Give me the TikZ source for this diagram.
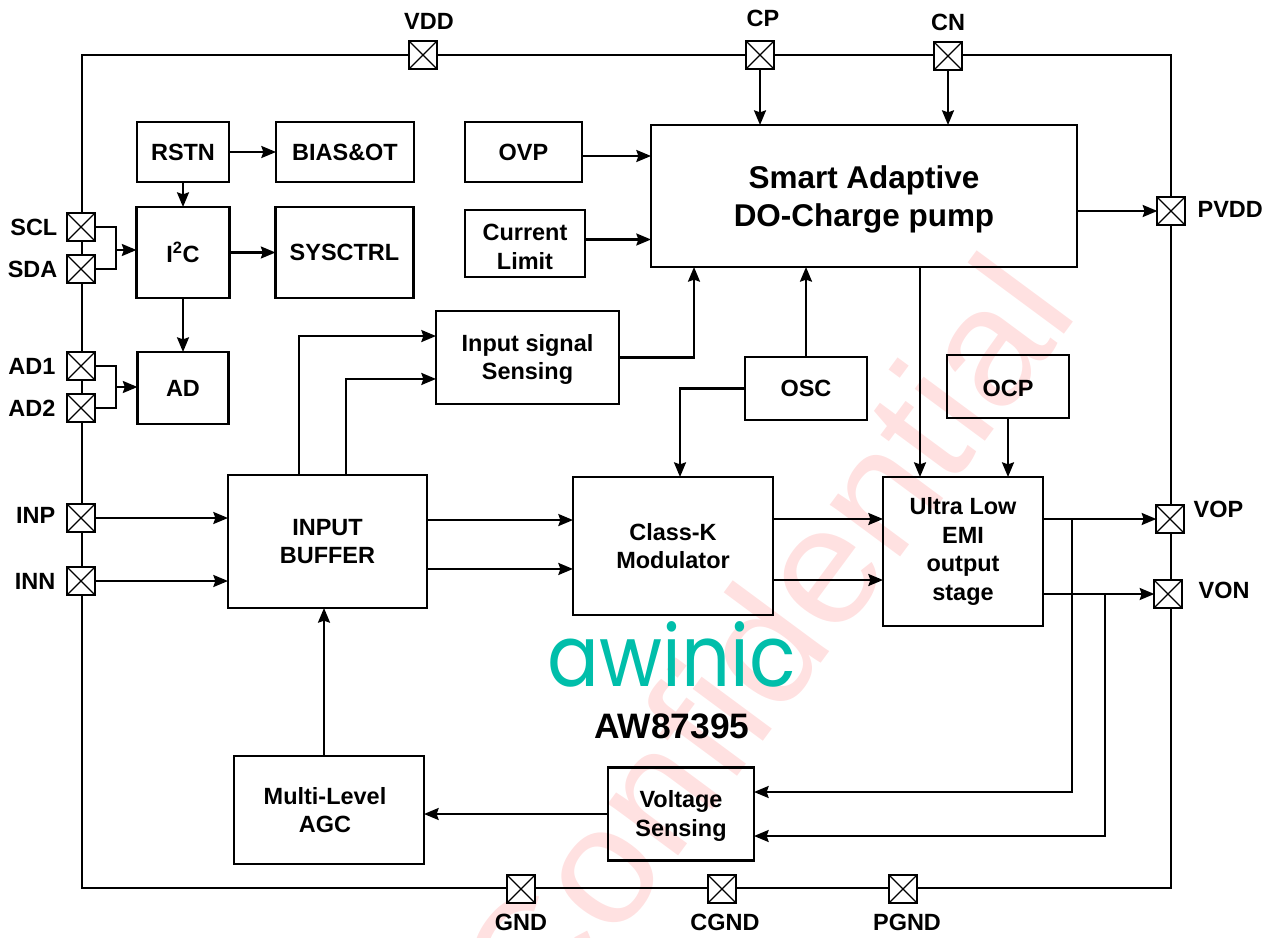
\documentclass[tikz,border=0pt]{standalone}
\usepackage{fontspec}
\setmainfont{Liberation Sans}
\newfontfamily\logofont{Poppins}
\usepackage{xcolor}
\usetikzlibrary{arrows.meta, positioning}
\definecolor{wmPink}{RGB}{255,225,225}
\definecolor{logoTeal}{RGB}{0,190,170}
\newcommand{\pushdown}[1]{\rule{0pt}{#1}}

\begin{document}
\begin{tikzpicture}[
        x=0.75pt, y=-0.75pt,
        font=\fontsize{17.6}{21.5}\selectfont\bfseries,
        >={Stealth[length=11pt,width=9pt,inset=1.5pt]},
        line width=1.6pt,
        box/.style={
            draw=black,
            align=center,
            outer sep=0pt,
            inner sep=0pt
        },
        pad/.style={
            draw=black,
            fill=white,
            minimum size=20.5pt,
            inner sep=0pt,
            outer sep=0pt,
            path picture={
                \draw[line width=1pt] (path picture bounding box.south west) -- (path picture bounding box.north east);
                \draw[line width=1pt] (path picture bounding box.north west) -- (path picture bounding box.south east);
            }
        },
        padlbl/.style={
            inner sep=0pt,
            outer sep=0pt
        }
    ]

        \useasboundingbox (0,0) rectangle (1274,938);

        % watermark and logo
        \node[text=wmPink, rotate=53.5, anchor=base east, font=\fontsize{124}{124}\selectfont] (watermark) at (1084,308) {\scalebox{1.04}[1]{Confidential}};
        \node[text=logoTeal, font=\fontsize{64}{64}\selectfont\logofont] (logo) at (672,654) {\scalebox{0.9}[1]{awinic}};
        \node[font=\fontsize{26.5}{30}\selectfont\bfseries] (partNo) at (672,726) {AW87395};

        % chip outline
        \node[box, minimum width=816.75pt, minimum height=624.75pt] (chip) at (626.5,471.5) {};

        % blocks
        \node[box, minimum width=69pt, minimum height=45pt] (rstn) at (183,152) {RSTN};
        \node[box, minimum width=103.5pt, minimum height=45pt, right=35.25pt of rstn] (bias) {BIAS\&OT};
        \node[box, minimum width=69.75pt, minimum height=68.25pt, below=18.75pt of rstn] (i2c) {I\textsuperscript{2}C};
        \node[box, minimum width=103.5pt, minimum height=68.25pt, right=34.5pt of i2c] (sysctrl) {SYSCTRL};
        \node[box, minimum width=68.25pt, minimum height=54pt, below=40.5pt of i2c] (ad) {AD};
        \node[box, minimum width=87.75pt, minimum height=45pt] (ovp) at (523.5,152) {OVP};
        \node[box, minimum width=90pt, minimum height=50.25pt] (climit) at (525,243.5) {\pushdown{17.5pt}Current\\Limit};
        \node[box, minimum width=319.5pt, minimum height=106.5pt, font=\fontsize{23.6}{28.5}\selectfont\bfseries] (smart) at (864,196) {\pushdown{21.7pt}Smart Adaptive\\DO-Charge pump};
        \node[box, minimum width=137.25pt, minimum height=69.75pt] (sensing) at (527.5,357.5) {\pushdown{15.8pt}Input signal\\Sensing};
        \node[box, minimum width=91.5pt, minimum height=47.25pt] (osc) at (806,388.5) {OSC};
        \node[box, minimum width=91.5pt, minimum height=47.25pt] (ocp) at (1008,386.5) {\pushdown{15.8pt}OCP};
        \node[box, minimum width=149.25pt, minimum height=99.75pt] (buffer) at (327.5,541.5) {INPUT\\BUFFER};
        \node[box, minimum width=150pt, minimum height=103.5pt] (classk) at (673,546) {Class-K\\Modulator};
        \node[box, minimum width=120pt, minimum height=111.75pt] (ultra) at (963,551.5) {Ultra Low\\EMI\\output\\stage};
        \node[box, minimum width=142.5pt, minimum height=81pt] (agc) at (329,810) {Multi-Level\hspace*{6pt}\\AGC\hspace*{6pt}};
        \node[box, minimum width=109.5pt, minimum height=69.75pt] (voltage) at (681,814) {\pushdown{15.8pt}Voltage\\Sensing};

        % pads
        \node[pad] (pVDD) at (423,55) {};
        \node[pad] (pCP) at (760,55) {};
        \node[pad] (pCN) at (948,56) {};
        \node[pad] (pPVDD) at (1171,211) {};
        \node[pad] (pVOP) at (1170,519) {};
        \node[pad] (pVON) at (1168,594) {};
        \node[pad] (pGND) at (521,889) {};
        \node[pad] (pCGND) at (722,889) {};
        \node[pad] (pPGND) at (903,889) {};
        \node[pad] (pSCL) at (81,227) {};
        \node[pad] (pSDA) at (81,269) {};
        \node[pad] (pAD1) at (81,366) {};
        \node[pad] (pAD2) at (81,408) {};
        \node[pad] (pINP) at (81,518) {};
        \node[pad] (pINN) at (81,581) {};

        % pad labels
        \node[padlbl, above=8.6pt of pVDD, xshift=4.5pt] (lVDD) {VDD};
        \node[padlbl, above=11pt of pCP, xshift=2.25pt] (lCP) {CP};
        \node[padlbl, above=8.6pt of pCN] (lCN) {CN};
        \node[padlbl, right=9.75pt of pPVDD, yshift=1.5pt] (lPVDD) {PVDD};
        \node[padlbl, right=7.5pt of pVOP, yshift=7.5pt] (lVOP) {VOP};
        \node[padlbl, right=12.75pt of pVON, yshift=3pt] (lVON) {VON};
        \node[padlbl, below=8.6pt of pGND] (lGND) {GND};
        \node[padlbl, below=8.6pt of pCGND, xshift=2.25pt] (lCGND) {CGND};
        \node[padlbl, below=8.6pt of pPGND, xshift=3pt] (lPGND) {PGND};
        \node[padlbl, left=7.5pt of pSCL] (lSCL) {SCL};
        \node[padlbl, left=7.5pt of pSDA] (lSDA) {SDA};
        \node[padlbl, left=9pt of pAD1] (lAD1) {AD1};
        \node[padlbl, left=9pt of pAD2] (lAD2) {AD2};
        \node[padlbl, left=9pt of pINP, yshift=2.25pt] (lINP) {INP};
        \node[padlbl, left=9pt of pINN] (lINN) {INN};

        \coordinate (busI2C) at (116,250);
        \coordinate (busAD) at (116,387);
        \coordinate (tapP) at (1072,519);
        \coordinate (tapN) at (1105,594);

        \draw[->] (pCP.south) -- (pCP.south |- smart.north);
        \draw[->] (pCN.south) -- (pCN.south |- smart.north);
        \draw[->] (rstn) -- (bias);
        \draw[->] (rstn) -- (i2c);
        \draw[->] (i2c) -- (sysctrl);
        \draw[->] (i2c) -- (ad);
        \draw (pSCL.east) -| (busI2C) |- (pSDA.east);
        \draw[->] (busI2C) -- (busI2C -| i2c.west);
        \draw (pAD1.east) -| (busAD) |- (pAD2.east);
        \draw[->] (busAD) -- (busAD -| ad.west);
        \draw[->] ([yshift=-3pt]ovp.east) -- ([yshift=-3pt]ovp.east -| smart.west);
        \draw[->] ([yshift=3pt]climit.east) -- ([yshift=3pt]climit.east -| smart.west);
        \draw[->] (pPVDD.west -| smart.east) -- (pPVDD.west);

        \draw[->] (sensing.east) -| ([xshift=-127.5pt]smart.south);
        \draw[->] (osc.north) -- (osc.north |- smart.south);
        \draw[->] (osc.west) -| ([xshift=5.25pt]classk.north);
        \draw[->] ([xshift=42pt]smart.south) -- ([xshift=-32.25pt]ultra.north);
        \draw[->] (ocp.south) -- (ocp.south |- ultra.north);

        \draw[->] ([xshift=-21.4pt]buffer.north) |- ([yshift=16.1pt]sensing.west);
        \draw[->] ([xshift=13.9pt]buffer.north) |- ([yshift=-16.1pt]sensing.west);
        \draw[->] (pINP.east) -- (pINP.east -| buffer.west);
        \draw[->] (pINN.east) -- (pINN.east -| buffer.west);
        \draw[->] ([yshift=16.1pt]buffer.east) -- ([yshift=16.1pt]buffer.east -| classk.west);
        \draw[->] ([yshift=-20.6pt]buffer.east) -- ([yshift=-20.6pt]buffer.east -| classk.west);
        \draw[->] ([yshift=20.25pt]classk.east) -- ([yshift=20.25pt]classk.east -| ultra.west);
        \draw[->] ([yshift=-25.5pt]classk.east) -- ([yshift=-25.5pt]classk.east -| ultra.west);

        \draw[->] (pVOP.west -| ultra.east) -- (pVOP.west);
        \draw[->] (pVON.west -| ultra.east) -- (pVON.west);
        \draw[->] (tapP) |- ([yshift=16.5pt]voltage.east);
        \draw[->] (tapN) |- ([yshift=-16.5pt]voltage.east);
        \draw[->] (voltage.west) -- (voltage.west -| agc.east);
        \draw[->] ([xshift=-3.75pt]agc.north) -- ([xshift=-3.75pt]agc.north |- buffer.south);

\end{tikzpicture}
\end{document}
